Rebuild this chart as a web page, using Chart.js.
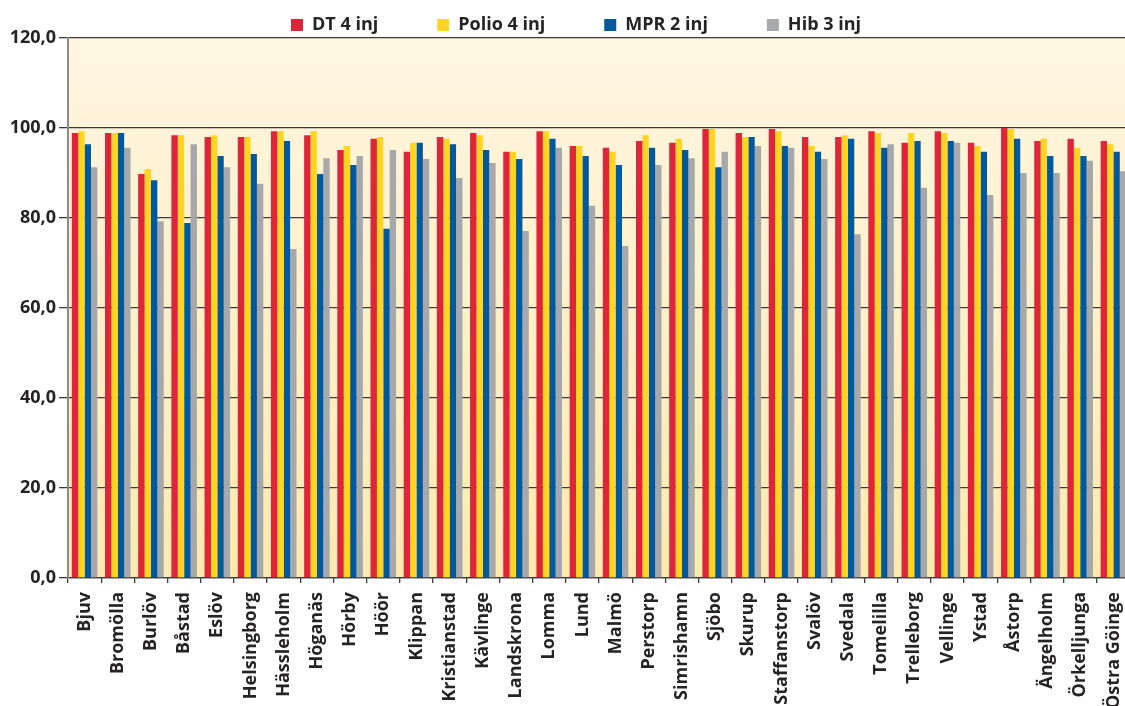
<!DOCTYPE html>
<html>
<head>
<meta charset="utf-8">
<script src="https://cdn.jsdelivr.net/npm/chart.js@4.4.1/dist/chart.umd.min.js"></script>
<style>
  html, body { margin: 0; padding: 0; background: #fff; overflow: hidden; }
  #vacc-chart { display: block; }
</style>
</head>
<body>
<canvas id="vacc-chart" width="1152" height="706"></canvas>
<script>
const kommuner = ['Bjuv','Bromölla','Burlöv','Båstad','Eslöv','Helsingborg','Hässleholm','Höganäs','Hörby','Höör',
    'Klippan','Kristianstad','Kävlinge','Landskrona','Lomma','Lund','Malmö','Perstorp','Simrishamn','Sjöbo',
    'Skurup','Staffanstorp','Svalöv','Svedala','Tomelilla','Trelleborg','Vellinge','Ystad','Åstorp','Ängelholm',
    'Örkelljunga','Östra Göinge'];

const dt4 = [98.9, 98.9, 89.8, 98.4, 98.0, 98.0, 99.3, 98.4, 95.1, 97.6, 94.7, 98.0, 98.9, 94.7, 99.3, 96.0,
    95.6, 97.1, 96.7, 99.8, 98.9, 99.8, 98.0, 98.0, 99.3, 96.7, 99.3, 96.7, 100.0, 97.1, 97.6, 97.1];
const polio4 = [99.3, 98.9, 90.9, 98.4, 98.4, 98.0, 99.3, 99.3, 96.0, 98.0, 96.7, 97.6, 98.4, 94.7, 99.3, 96.0,
    94.7, 98.4, 97.6, 99.8, 98.0, 99.3, 96.0, 98.4, 98.9, 98.9, 98.9, 96.0, 99.8, 97.6, 95.6, 96.4];
const mpr2 = [96.4, 98.9, 88.4, 78.9, 93.8, 94.2, 97.1, 89.8, 91.8, 77.6, 96.7, 96.4, 95.1, 93.1, 97.6, 93.8,
    91.8, 95.6, 95.1, 91.3, 98.0, 96.0, 94.7, 97.6, 95.6, 97.1, 97.1, 94.7, 97.6, 93.8, 93.8, 94.7];
const hib3 = [91.3, 95.6, 79.3, 96.4, 91.3, 87.6, 73.1, 93.3, 93.8, 95.1, 93.1, 88.9, 92.2, 77.1, 95.6, 82.7,
    73.8, 91.8, 93.3, 94.7, 96.0, 95.6, 93.1, 76.4, 96.4, 86.7, 96.7, 85.1, 90.0, 90.0, 92.7, 90.4];

const seriesNames = ['DT 4 inj', 'Polio 4 inj', 'MPR 2 inj', 'Hib 3 inj'];
const yTicks = [0, 20, 40, 60, 80, 100, 120];

const red = '#de2539';
const yellow = '#ffd51f';
const blue = '#00599c';
const gray = '#a7a8ac';
const lineColor = '#3a3a3a';
const textColor = '#262324';

// cream gradient behind the bars
const plotBackground = {
    id: 'plotBackground',
    beforeDraw(chart) {
        const {ctx, chartArea} = chart;
        const g = ctx.createLinearGradient(0, chartArea.top, 0, chartArea.bottom);
        g.addColorStop(0, '#fff6e2');
        g.addColorStop(1, '#feeaae');
        ctx.save();
        ctx.fillStyle = g;
        ctx.fillRect(chartArea.left, chartArea.top, chartArea.right - chartArea.left, chartArea.bottom - chartArea.top);
        ctx.restore();
    }
};

// nudge the legend a bit right, the original is not centred on the canvas
const legendShift = {
    id: 'legendShift',
    afterLayout(chart) {
        chart.legend.left += 11;
        chart.legend.right += 11;
    }
};

Chart.defaults.font.family = '"Open Sans", "DejaVu Sans", sans-serif';
Chart.defaults.font.weight = 'bold';
Chart.defaults.font.size = 18;
Chart.defaults.color = textColor;

const ctx = document.getElementById('vacc-chart');
const vaccChart = new Chart(ctx, {
    type: 'bar',
    data: {
        labels: kommuner,
        datasets: [
            { label: seriesNames[0], data: dt4, backgroundColor: red },
            { label: seriesNames[1], data: polio4, backgroundColor: yellow },
            { label: seriesNames[2], data: mpr2, backgroundColor: blue },
            { label: seriesNames[3], data: hib3, backgroundColor: gray }
        ]
    },
    options: {
        responsive: false,
        animation: false,
        layout: {
            // legend is pulled up so the plot starts at y=38; right side runs past the window
            padding: { top: -43, left: 0, right: 22, bottom: 0 }
        },
        datasets: {
            bar: {
                categoryPercentage: 0.77,
                barPercentage: 1.0,
                borderWidth: 0
            }
        },
        plugins: {
            legend: {
                position: 'top',
                maxHeight: 81,
                labels: {
                    boxWidth: 12,
                    boxHeight: 12,
                    padding: 59,
                    color: textColor,
                    font: { size: 18, weight: 'bold' }
                }
            },
            tooltip: { enabled: false }
        },
        scales: {
            x: {
                grid: {
                    display: true,
                    drawOnChartArea: false,
                    drawTicks: true,
                    tickLength: 5,
                    color: lineColor,
                    lineWidth: 1.3
                },
                border: { color: lineColor, width: 1.3 },
                ticks: {
                    minRotation: 90,
                    maxRotation: 90,
                    autoSkip: false,
                    padding: 9,
                    color: textColor,
                    font: { size: 18, weight: 'bold' }
                },
                afterFit: function(scale) { scale.height = 128; }
            },
            y: {
                min: 0,
                max: 120,
                afterBuildTicks: function(scale) {
                    scale.ticks = yTicks.map(v => ({ value: v }));
                },
                grid: {
                    color: lineColor,
                    lineWidth: 1.3,
                    tickLength: 9
                },
                border: { color: '#8c8c8c', width: 2 },
                ticks: {
                    padding: 3,
                    color: textColor,
                    font: { size: 18, weight: 'bold' },
                    callback: function(value) {
                        return value.toFixed(1).replace('.', ',');
                    }
                },
                afterFit: function(scale) { scale.width = 68; }
            }
        }
    },
    plugins: [plotBackground, legendShift]
});
</script>
</body>
</html>
